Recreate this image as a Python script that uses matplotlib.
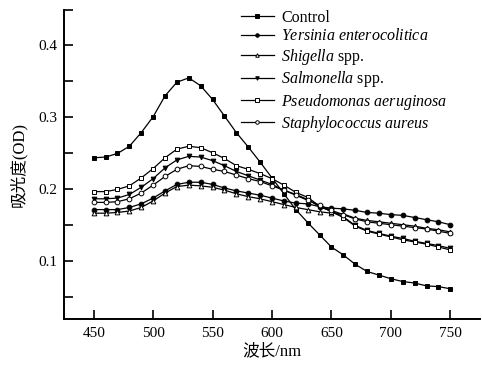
import numpy as np
import matplotlib
matplotlib.use("Agg")
import matplotlib.pyplot as plt
from matplotlib.ticker import MultipleLocator

plt.rcParams["font.family"] = ["Liberation Serif", "Noto Sans CJK SC"]
plt.rcParams["mathtext.fontset"] = "custom"
plt.rcParams["mathtext.rm"] = "Liberation Serif"
plt.rcParams["mathtext.it"] = "Liberation Serif:italic"

# ─── Datos ────────────────────────────────────────────────────────────────────
wavelength = np.arange(450, 751, 10)

control = [0.244, 0.245, 0.250, 0.260, 0.279, 0.301, 0.330, 0.349, 0.355, 0.344,
           0.325, 0.302, 0.279, 0.259, 0.238, 0.216, 0.194, 0.172, 0.154, 0.137,
           0.120, 0.109, 0.096, 0.086, 0.081, 0.076, 0.072, 0.070, 0.066, 0.065, 0.062]
yersinia = [0.172, 0.172, 0.172, 0.175, 0.180, 0.188, 0.198, 0.207, 0.210, 0.210,
            0.207, 0.202, 0.198, 0.195, 0.192, 0.188, 0.184, 0.181, 0.180, 0.176,
            0.174, 0.173, 0.171, 0.168, 0.167, 0.165, 0.164, 0.161, 0.158, 0.155, 0.151]
shigella = [0.167, 0.167, 0.168, 0.170, 0.175, 0.184, 0.195, 0.204, 0.206, 0.205,
            0.203, 0.199, 0.194, 0.190, 0.187, 0.183, 0.179, 0.175, 0.172, 0.169,
            0.167, 0.166, 0.160, 0.157, 0.155, 0.153, 0.151, 0.149, 0.146, 0.144, 0.141]
salmonella = [0.187, 0.187, 0.188, 0.193, 0.203, 0.215, 0.230, 0.241, 0.246, 0.245,
              0.240, 0.233, 0.225, 0.219, 0.213, 0.207, 0.199, 0.193, 0.186, 0.176,
              0.170, 0.162, 0.150, 0.143, 0.139, 0.135, 0.132, 0.128, 0.125, 0.122, 0.118]
pseudomonas = [0.197, 0.197, 0.200, 0.205, 0.216, 0.229, 0.244, 0.256, 0.260, 0.258,
               0.251, 0.243, 0.233, 0.228, 0.222, 0.215, 0.206, 0.196, 0.189, 0.177,
               0.169, 0.161, 0.149, 0.142, 0.138, 0.134, 0.130, 0.127, 0.124, 0.120, 0.116]
staph = [0.182, 0.182, 0.183, 0.187, 0.195, 0.206, 0.218, 0.228, 0.233, 0.232,
         0.228, 0.225, 0.220, 0.215, 0.211, 0.205, 0.199, 0.192, 0.185, 0.178,
         0.171, 0.165, 0.159, 0.155, 0.153, 0.151, 0.149, 0.147, 0.145, 0.142, 0.139]

labels = [
    "Control",
    r"$\it{Yersinia\ enterocolitica}$",
    r"$\it{Shigella}$ spp.",
    r"$\it{Salmonella}$ spp.",
    r"$\it{Pseudomonas\ aeruginosa}$",
    r"$\it{Staphylococcus\ aureus}$",
]

# ─── Plot ─────────────────────────────────────────────────────────────────────
fig = plt.figure(figsize=(4.82, 3.68), dpi=100)
ax = fig.add_axes([64 / 482, 1 - 319 / 368, 416 / 482, 309.5 / 368])

styles = [
    ("s", "black"),   # Control
    ("o", "black"),   # Yersinia
    ("^", "white"),   # Shigella
    ("v", "black"),   # Salmonella
    ("s", "white"),   # Pseudomonas
    ("o", "white"),   # Staphylococcus
]
series = [control, yersinia, shigella, salmonella, pseudomonas, staph]

for y, (marker, face), label in zip(series, styles, labels):
    ax.plot(wavelength, y, color="black", lw=0.9, marker=marker,
            markersize=3.4, markerfacecolor=face, markeredgecolor="black",
            markeredgewidth=0.7, label=label)

ax.set_xlim(425, 775)
ax.set_ylim(0.02, 0.45)
ax.xaxis.set_major_locator(MultipleLocator(50))
ax.yaxis.set_major_locator(MultipleLocator(0.1))
ax.yaxis.set_minor_locator(MultipleLocator(0.05))

for side in ["top", "right"]:
    ax.spines[side].set_visible(False)
for side in ["left", "bottom"]:
    ax.spines[side].set_linewidth(1.4)

ax.tick_params(axis="both", which="both", direction="in", length=6.5,
               width=1.2, labelsize=11)
ax.tick_params(axis="x", pad=6)
ax.tick_params(axis="y", pad=5)

ax.set_xlabel("波长/nm", fontsize=12, labelpad=2)
ax.set_ylabel("吸光度(OD)", fontsize=12, labelpad=8)

leg = ax.legend(loc="upper left", bbox_to_anchor=(233 / 482, 1 - 2 / 368),
                bbox_transform=fig.transFigure, frameon=False, fontsize=11.5,
                handlelength=2.05, handletextpad=0.45, labelspacing=0.15,
                borderpad=0, markerscale=0.75)

fig.savefig("out.png", dpi=100)
